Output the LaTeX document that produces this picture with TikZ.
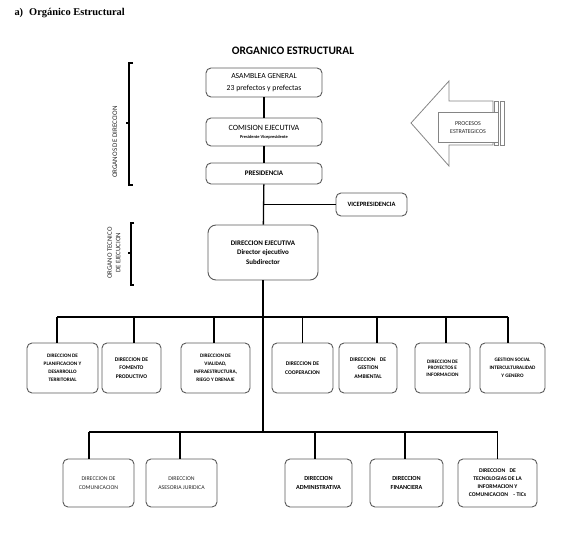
\documentclass[tikz,border=0pt]{standalone}
\usepackage{fontspec}
\setmainfont{Carlito}
\newfontfamily\tnr{Liberation Serif}
\definecolor{boxgray}{HTML}{5a5a5a}
\definecolor{arrgray}{HTML}{858585}
\definecolor{txtgray}{HTML}{262626}
\begin{document}
\begin{tikzpicture}[x=1pt,y=-1pt,
  box/.style={draw=boxgray, rounded corners=5pt, line width=0.9pt, fill=white, align=center, inner sep=1pt, text=black},
  conn/.style={line width=1.3pt, black},
  brk/.style={line width=1.4pt, black},
  small/.style={font=\fontsize{5.2}{8}\selectfont\bfseries},
  smallb/.style={font=\fontsize{5.6}{8.5}\selectfont\bfseries},
  smallr/.style={font=\fontsize{5.8}{8.5}\selectfont, text=txtgray},
]
\useasboundingbox (0,0) rectangle (568,549);

% headings
\node[anchor=west, font=\tnr\bfseries\fontsize{10.4}{12}\selectfont] (head) at (11,13) {a)\hspace{6pt}Orgánico Estructural};
\node[font=\bfseries\fontsize{11.4}{13}\selectfont] (title) at (293,51) {ORGANICO ESTRUCTURAL};

% top chain
\node[box, minimum width=116, minimum height=29, font=\fontsize{7.7}{11.5}\selectfont] (asam) at (264,82.5) {ASAMBLEA GENERAL\\23 prefectos y prefectas};
\node[box, minimum width=116, minimum height=28, font=\fontsize{8}{8.5}\selectfont] (comi) at (264,132) {COMISION EJECUTIVA\\[-1pt]{\fontsize{4.4}{5}\selectfont\bfseries Presidente Vicepresidente}};
\node[box, minimum width=116, minimum height=21, font=\fontsize{7}{8}\selectfont\bfseries] (pres) at (264,173.5) {PRESIDENCIA};
\node[box, minimum width=71, minimum height=23, font=\fontsize{6.5}{8}\selectfont\bfseries] (vice) at (371.5,204.5) {VICEPRESIDENCIA};
\node[box, rounded corners=8pt, minimum width=110, minimum height=55, font=\fontsize{7}{9.5}\selectfont\bfseries] (dirj) at (263,252.5) {DIRECCION EJECUTIVA\\Director ejecutivo\\Subdirector};

% row 1
\node[box, small, minimum width=71, minimum height=50] (r1a) at (62.5,368) {DIRECCION DE\\PLANIFICACION Y\\DESARROLLO\\TERRITORIAL};
\node[box, smallb, minimum width=59, minimum height=50] (r1b) at (131.5,368) {DIRECCION DE\\FOMENTO\\PRODUCTIVO};
\node[box, small, minimum width=69, minimum height=50] (r1c) at (215.5,368) {DIRECCION DE\\VIALIDAD,\\INFRAESTRUCTURA,\\RIEGO Y DRENAJE};
\node[box, smallb, minimum width=61, minimum height=50] (r1d) at (302.5,368) {DIRECCION DE\\COOPERACION};
\node[box, smallb, minimum width=58, minimum height=50] (r1e) at (368,368) {DIRECCION\hspace{3pt} DE\\GESTION\\AMBIENTAL};
\node[box, minimum width=55, minimum height=50, font=\fontsize{5.2}{6.5}\selectfont\bfseries] (r1f) at (442.5,368) {DIRECCION DE\\PROYECTOS E\\INFORMACION};
\node[box, small, minimum width=65, minimum height=50] (r1g) at (512.5,368) {GESTION SOCIAL\\INTERCULTURALIDAD\\Y GENERO};

% row 2
\node[box, smallr, minimum width=71, minimum height=48] (r2a) at (98.5,483) {DIRECCION DE\\COMUNICACION};
\node[box, smallr, minimum width=71, minimum height=48] (r2b) at (181.5,483) {DIRECCION\\ASESORIA JURIDICA};
\node[box, minimum width=67, minimum height=48, font=\fontsize{6.2}{9}\selectfont\bfseries] (r2c) at (318.5,483) {DIRECCION\\ADMINISTRATIVA};
\node[box, minimum width=73, minimum height=48, font=\fontsize{6.2}{9}\selectfont\bfseries] (r2d) at (406.5,483) {DIRECCION\\FINANCIERA};
\node[box, minimum width=79, minimum height=48, font=\fontsize{5.7}{8}\selectfont\bfseries] (r2e) at (497.5,483) {DIRECCION\hspace{3pt} DE\\TECNOLOGIAS DE LA\\INFORMACION Y\\COMUNICACION\hspace{4pt} - TICs};

% drop points
\coordinate (b1) at (263,317);
\coordinate (b2) at (263,432);
\coordinate (d1a) at ([xshift=-5.5]r1a.north);
\coordinate (d1b) at ([xshift=2.5]r1b.north);
\coordinate (d1c) at ([xshift=-1.5]r1c.north);
\coordinate (d1d) at (r1d.north);
\coordinate (d1e) at ([xshift=9]r1e.north);
\coordinate (d1f) at ([xshift=3.5]r1f.north);
\coordinate (d1g) at ([xshift=-4.5]r1g.north);
\coordinate (d2a) at ([xshift=-9.5]r2a.north);
\coordinate (d2b) at ([xshift=-1.5]r2b.north);
\coordinate (d2c) at ([xshift=-3.5]r2c.north);
\coordinate (d2d) at ([xshift=-1.5]r2d.north);
\coordinate (d2e) at (r2e.north);

\draw[conn] (asam) -- (comi);
\draw[conn] (comi) -- (pres);
\draw[conn] (pres) -- (dirj);
\draw[conn] (vice.west) -- (vice.west -| dirj.north);
\draw[conn] (dirj.south) -- (b2);
\draw[conn] (d1a |- b1) -- (d1g |- b1);
\foreach \n in {d1a,d1b,d1c,d1d,d1e,d1f,d1g}{\draw[conn] (\n |- b1) -- (\n);}
\draw[conn] (d2a |- b2) -- (d2e |- b2);
\foreach \n in {d2a,d2b,d2c,d2d,d2e}{\draw[conn] (\n |- b2) -- (\n);}

% brackets
\draw[brk] (133,63) -- (129,63) -- (129,185) -- (133,185);
\draw[brk] (129,123) -- (126,123);
\node[rotate=90, font=\fontsize{7}{8}\selectfont, text=txtgray] (lab1) at (115,142) {ORGANOS DE DIRECCION};
\draw[brk] (134,223) -- (131,223) -- (131,285) -- (134,285);
\draw[brk] (131,253) -- (128,253);
\node[rotate=90, align=center, font=\fontsize{6.8}{8.5}\selectfont, text=txtgray] (lab2) at (114,253) {ORGANO TECNICO\\DE EJECUCION};

% strategic arrow
\draw[arrgray, line width=0.8pt, fill=white] (411,123) -- (449,81) -- (449,101) -- (493,101) -- (493,145) -- (449,145) -- (449,166) -- cycle;
\draw[arrgray, line width=0.8pt, fill=white] (494,101) rectangle (498,145);
\draw[arrgray, line width=0.8pt, fill=white] (500,101) rectangle (504,145);
\node[draw=arrgray, line width=0.8pt, fill=white, minimum width=60, minimum height=30, align=center, font=\fontsize{6}{8.5}\selectfont, text=txtgray] (proc) at (468,127.5) {PROCESOS\\ESTRATEGICOS};
\end{tikzpicture}
\end{document}
